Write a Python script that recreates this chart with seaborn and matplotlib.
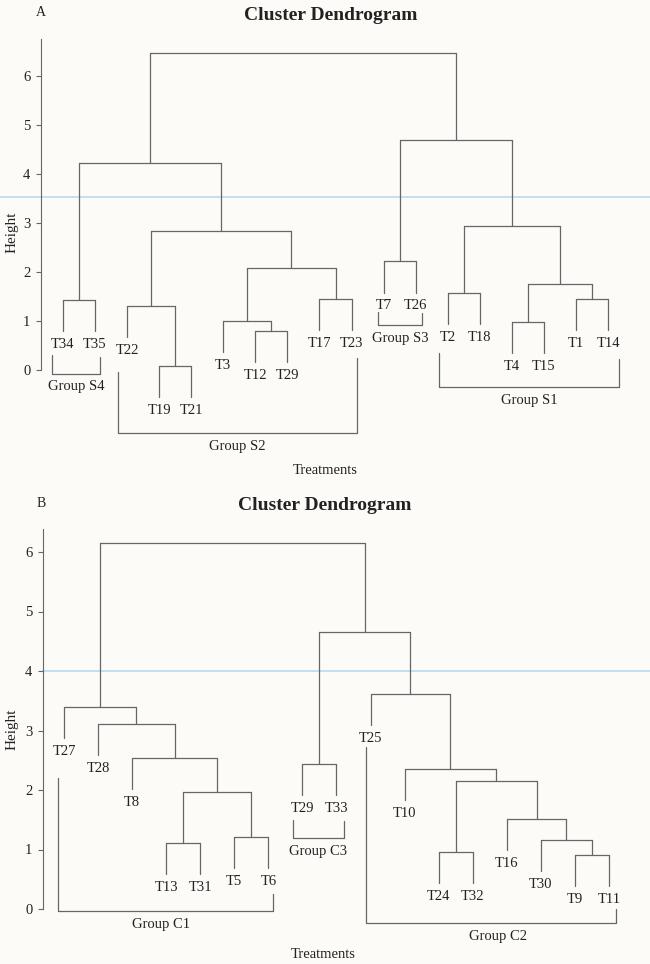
import matplotlib
matplotlib.use("Agg")
import matplotlib.pyplot as plt
import numpy as np
import pandas as pd
import seaborn as sns

# ---- data: panel A (hclust-style merge table, leaves in display order)
labels_a = ["T34", "T35", "T22", "T19", "T21", "T3", "T12", "T29", "T17",
            "T23", "T7", "T26", "T2", "T18", "T4", "T15", "T1", "T14"]
merge_a = [(-4, -5), (-7, -8), (-15, -16), (-6, 2), (-3, 1), (-1, -2),
           (-9, -10), (-17, -18), (-13, -14), (3, 8), (4, 7), (-11, -12),
           (5, 11), (9, 10), (6, 13), (12, 14), (15, 16)]
height_a = [0.08, 0.80, 0.98, 1.00, 1.31, 1.43, 1.45, 1.45, 1.57, 1.76,
            2.08, 2.22, 2.84, 2.94, 4.22, 4.69, 6.47]
cut_a = 3.53
groups_a = ["Group S4", "Group S2", "Group S3", "Group S1"]

# ---- data: panel B
labels_b = ["T27", "T28", "T8", "T13", "T31", "T5", "T6", "T29", "T33",
            "T25", "T10", "T24", "T32", "T16", "T30", "T9", "T11"]
merge_b = [(-16, -17), (-12, -13), (-4, -5), (-15, 1), (-6, -7), (-14, 4),
           (3, 5), (2, 6), (-11, 8), (-8, -9), (-3, 7), (-2, 11), (-1, 12),
           (-10, 9), (10, 14), (13, 15)]
height_b = [0.91, 0.96, 1.11, 1.16, 1.21, 1.51, 1.97, 2.15, 2.35, 2.44,
            2.54, 3.11, 3.39, 3.61, 4.66, 6.15]
cut_b = 4.0
groups_b = ["Group C1", "Group C3", "Group C2"]

# ---- layout (pixels of a 650x964 canvas)
W, H = 650, 964
LINE = "#666666"
TEXT = "#222222"
CUTC = "#b9daee"
BG = "#fdfbf8"

# box (left, right, top, bottom), y of zero, px per unit, first leaf px, leaf step
panel_a = dict(box=(41, 650, 30, 480), y0=370, unit=49.0, leaf0=63, step=32.06,
               spine_top=6.75, cut_from=0)
panel_b = dict(box=(43, 650, 520, 964), y0=909, unit=59.5, leaf0=64, step=34.06,
               spine_top=6.39, cut_from=43)

# bracket geometry in data units: x_left, x_right, y_bottom, y_top_left, y_top_right, label_x
brackets_a = [(0.657, 2.154, -0.08, 0.31, 0.27, None),
              (2.716, 10.17, -1.286, -0.04, 0.245, None),
              (10.83, 12.2, 0.918, 1.18, 1.16, None),
              (12.73, 18.34, -0.347, 0.347, 0.224, None)]
brackets_b = [(0.824, 7.136, -0.034, 2.20, 0.252, 3.85),
              (7.72, 9.22, 1.19, 1.50, 1.48, None),
              (9.87, 17.2, -0.235, 2.72, 0.0, 13.74)]


def dendro_segments(labels, merges, heights, hang=0.1):
    """Lay out an hclust merge table: returns segment frame and leaf ends."""
    drop = hang * (max(heights) - min(heights))
    node_x, node_h, leaf_end = {}, {}, {}
    rows = []
    seg = 0
    for k, (a, b) in enumerate(merges, start=1):
        h = heights[k - 1]
        xs = []
        for c in (a, b):
            if c < 0:
                x, y = -c, h - drop
                leaf_end[-c] = y
            else:
                x, y = node_x[c], node_h[c]
            rows += [(seg, x, y), (seg, x, h)]
            seg += 1
            xs.append(x)
        rows += [(seg, xs[0], h), (seg, xs[1], h)]
        seg += 1
        node_x[k] = np.mean(xs)
        node_h[k] = h
    df = pd.DataFrame(rows, columns=["seg", "x", "y"])
    return df, leaf_end


def draw_panel(fig, p, labels, merges, heights, cut, groups, brackets):
    l, r, t, b = p["box"]
    ax = fig.add_axes([l / W, 1 - b / H, (r - l) / W, (b - t) / H])
    ax.set_facecolor("none")
    ax.set_xlim(1 + (l - p["leaf0"]) / p["step"], 1 + (r - p["leaf0"]) / p["step"])
    ax.set_ylim((p["y0"] - b) / p["unit"], (p["y0"] - t) / p["unit"])

    df, leaf_end = dendro_segments(labels, merges, heights)
    sns.lineplot(data=df, x="x", y="y", units="seg", estimator=None, sort=False,
                 color=LINE, linewidth=0.9, legend=False, ax=ax)

    for i, lab in enumerate(labels, start=1):
        ax.annotate(lab, (i, leaf_end[i]), xytext=(0, -9.6), textcoords="offset points",
                    ha="center", va="center", fontsize=10.5, color=TEXT)

    # cut line
    frac0 = (p["cut_from"] - l) / (r - l)
    ax.axhline(cut, xmin=frac0, xmax=1, color=CUTC, lw=1.2, clip_on=False, zorder=0)

    # group brackets
    for name, (x0, x1, yb, yl, yr, lx) in zip(groups, brackets):
        ax.plot([x0, x0, x1, x1], [yl, yb, yb, yr], color=LINE, lw=0.9)
        ax.annotate(name, ((x0 + x1) / 2 if lx is None else lx, yb), xytext=(0, -9.4),
                    textcoords="offset points", ha="center", va="center",
                    fontsize=10.5, color=TEXT)

    ax.set_xticks([])
    ax.set_yticks(range(0, 7))
    ax.tick_params(axis="y", length=3.6, width=0.8, color=LINE, labelsize=10.5,
                   labelcolor=TEXT, pad=4)
    for s in ["top", "right", "bottom"]:
        ax.spines[s].set_visible(False)
    ax.spines["left"].set_color(LINE)
    ax.spines["left"].set_linewidth(0.8)
    ax.spines["left"].set_bounds(0, p["spine_top"])
    ax.set_xlabel("")
    ax.set_ylabel("")
    return ax


sns.set_style("ticks")
plt.rcParams["font.family"] = ["Liberation Serif", "DejaVu Serif"]

fig = plt.figure(figsize=(W / 100, H / 100), dpi=100, facecolor=BG)

draw_panel(fig, panel_a, labels_a, merge_a, height_a, cut_a, groups_a, brackets_a)
draw_panel(fig, panel_b, labels_b, merge_b, height_b, cut_b, groups_b, brackets_b)


def ftext(px, py, s, **kw):
    fig.text(px / W, 1 - py / H, s, color=TEXT, ha="center", va="center", **kw)


ftext(331, 15, "Cluster Dendrogram", fontsize=14, fontweight="bold")
ftext(41, 12, "A", fontsize=10)
ftext(325, 470, "Treatments", fontsize=10.5)
ftext(12, 232, "Height", fontsize=11, rotation=90)

ftext(325, 506, "Cluster Dendrogram", fontsize=14, fontweight="bold")
ftext(41, 503, "B", fontsize=10)
ftext(323, 954, "Treatments", fontsize=10.5)
ftext(12, 729, "Height", fontsize=11, rotation=90)

fig.savefig("out.png", dpi=100, facecolor=BG)
